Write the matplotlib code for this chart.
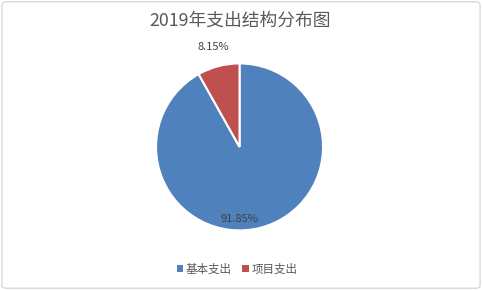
import matplotlib
matplotlib.use("Agg")
import matplotlib.pyplot as plt
from matplotlib.patches import FancyBboxPatch, Rectangle
import numpy as np

plt.rcParams['font.family'] = ['Noto Sans CJK SC', 'DejaVu Sans']

title = "2019年支出结构分布图"
categories = ["基本支出", "项目支出"]
values = [91.85, 8.15]
colors = ["#4F81BD", "#C0504D"]

fig = plt.figure(figsize=(4.82, 2.90), dpi=100)
fig.patch.set_facecolor("white")

# Figure border
fig.patches.append(FancyBboxPatch((0.004, 0.006), 0.992, 0.988,
                                  boxstyle="round,pad=0,rounding_size=0.01",
                                  transform=fig.transFigure, fill=False,
                                  edgecolor="#D9D9D9", linewidth=1.0))

ax = fig.add_axes([0.3237, 0.2055, 0.3465, 0.5758])
wedges, _ = ax.pie(values, colors=colors, startangle=90, counterclock=False,
                   radius=1.0, wedgeprops=dict(edgecolor="white", linewidth=1.5))
ax.set_xlim(-1, 1)
ax.set_ylim(-1, 1)
ax.set_aspect("equal")
ax.axis("off")

# Labels
for i, (w, v) in enumerate(zip(wedges, values)):
    txt = f"{v:.2f}%"
    if v > 50:
        x, y = 0.0, -0.86
    else:
        ang = np.deg2rad((w.theta1 + w.theta2) / 2)
        x, y = 1.24 * np.cos(ang), 1.24 * np.sin(ang)
    ax.text(x, y, txt, ha="center", va="center", fontsize=8, color="#404040",
            clip_on=False)

fig.text(0.498, 0.928, title, ha="center", va="center", fontsize=12.8, color="#595959")

handles = [Rectangle((0, 0), 1, 1, facecolor=c, edgecolor="none") for c in colors]
leg = fig.legend(handles, categories, loc="center", bbox_to_anchor=(0.492, 0.072),
                 ncol=2, frameon=False, fontsize=8.3, handlelength=0.55, handleheight=0.55,
                 handletextpad=0.25, columnspacing=0.9, labelcolor="#595959")

fig.savefig("out.png", dpi=100, facecolor="white")
